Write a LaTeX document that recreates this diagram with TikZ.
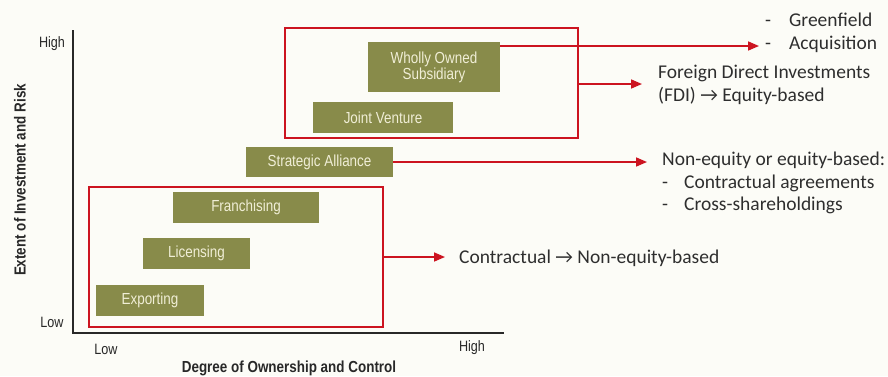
\documentclass[tikz,border=0pt]{standalone}
\usepackage{fontspec}
\setmainfont{Carlito}
\newfontfamily\narrowfont[FakeStretch=0.84]{Liberation Sans}
\usetikzlibrary{arrows.meta}
\definecolor{olive}{RGB}{136,139,74}
\definecolor{boxtext}{RGB}{240,238,214}
\definecolor{redline}{RGB}{204,20,32}
\definecolor{axisgray}{RGB}{40,40,40}
\definecolor{bg}{RGB}{252,252,247}
\tikzset{
  strat/.style={fill=olive, draw=none, text=boxtext, font=\narrowfont\fontsize{16}{18}\selectfont, align=center, inner sep=0pt},
  grp/.style={draw=redline, line width=1.6pt},
  redarrow/.style={draw=redline, line width=1.6pt, -{Triangle[length=11pt,width=9pt]}},
  axis/.style={draw=axisgray, line width=2pt},
  ticklab/.style={font=\narrowfont\fontsize{15}{17}\selectfont, text=axisgray, inner sep=0pt},
  axtitle/.style={font=\narrowfont\bfseries\fontsize{16}{18}\selectfont, text=axisgray, inner sep=0pt},
  note/.style={font=\fontsize{19.5}{22.5}\selectfont, text=black!82, align=left, inner sep=0pt, anchor=west}
}
\begin{document}
\begin{tikzpicture}[x=1pt,y=-1pt]
\fill[bg] (0,0) rectangle (888,376);
\useasboundingbox (0,0) rectangle (888,376);
% axes
\coordinate (ytop) at (73,30);
\coordinate (origin) at (73,333);
\coordinate (xend) at (504,333);
\draw[axis] (ytop) -- (origin) -- (xend);
\node[ticklab] (yhigh) at (52,44) {High};
\node[ticklab] (ylow) at (52,322) {Low};
\node[ticklab] (xlow) at (106,349) {Low};
\node[ticklab] (xhigh) at (472,348) {High};
\node[axtitle] (xtitle) at (289,368) {Degree of Ownership and Control};
\node[axtitle, rotate=90] (ytitle) at (20,180) {Extent of Investment and Risk};
% strategy boxes
\node[strat, minimum width=108pt, minimum height=31pt] (exp) at (150,300) {Exporting};
\node[strat, minimum width=107pt, minimum height=31pt] (lic) at (196.5,253.5) {Licensing};
\node[strat, minimum width=146pt, minimum height=31pt] (fra) at (246,207.5) {Franchising};
\node[strat, minimum width=147pt, minimum height=30pt] (sa) at (319.5,162) {Strategic Alliance};
\node[strat, minimum width=140pt, minimum height=31pt] (jv) at (383,117.5) {Joint Venture};
\node[strat, minimum width=132pt, minimum height=50pt] (wos) at (434,67) {Wholly Owned\\[-2pt]Subsidiary};
% group rectangles
\draw[grp] (285,28) rectangle (578,138);
\coordinate (topright) at (578,84);
\draw[grp] (89,187) rectangle (383,327);
\coordinate (botright) at (383,257);
% notes
\node[note] (green) at (765,20) {-\hspace{18pt}Greenfield};
\node[note] (acq) at (765,44) {-\hspace{18pt}Acquisition};
\node[note] (fdi) at (658,85) {Foreign Direct Investments\\(FDI) \textrightarrow{} Equity-based};
\node[note] (neq) at (662,183) {Non-equity or equity-based:\\-\hspace{16pt}Contractual agreements\\-\hspace{16pt}Cross-shareholdings};
\node[note] (con) at (459,258) {Contractual \textrightarrow{} Non-equity-based};
% arrows
\coordinate (acqtip) at (759,46);
\coordinate (fditip) at (642,84);
\coordinate (neqtip) at (647,162);
\coordinate (contip) at (445,257);
\draw[redarrow] (wos.east |- acqtip) -- (acqtip);
\draw[redarrow] (topright) -- (fditip);
\draw[redarrow] (sa.east) -- (neqtip);
\draw[redarrow] (botright) -- (contip);
\end{tikzpicture}
\end{document}
